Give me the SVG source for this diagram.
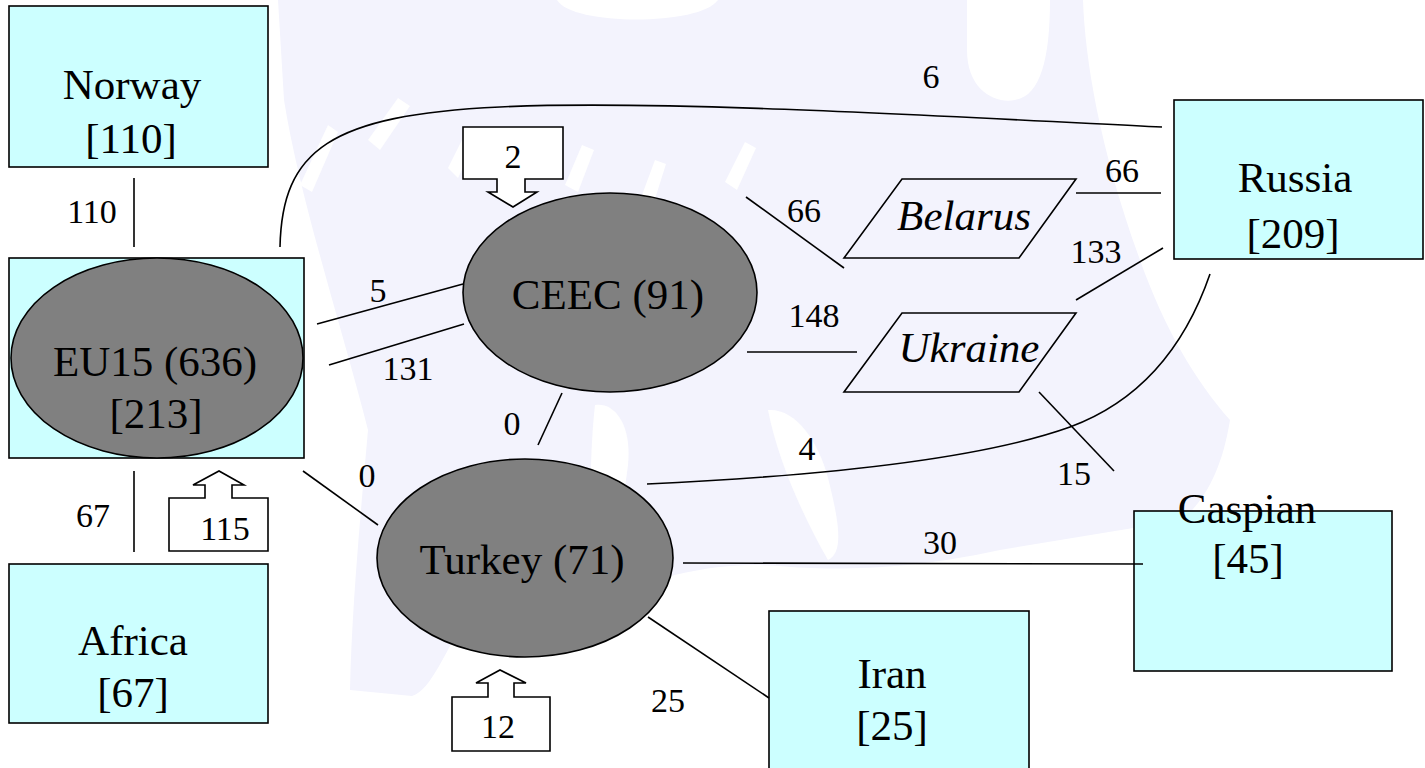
<svg xmlns="http://www.w3.org/2000/svg" width="1425" height="768" viewBox="0 0 1425 768" font-family="'Liberation Serif','Times New Roman',serif">
<defs>
<style>
.wm{fill:#f3f3fd;stroke:none}
.wh{fill:#ffffff;stroke:none}
.box{fill:#ccffff;stroke:#000;stroke-width:1.6}
.ell{fill:#808080;stroke:#000;stroke-width:1.6}
.par{fill:none;stroke:#000;stroke-width:1.6}
.arr{fill:#ffffff;stroke:#000;stroke-width:1.6}
.ln{fill:none;stroke:#000;stroke-width:1.6}
text{font-family:"Liberation Serif","Times New Roman",serif;fill:#000;text-anchor:middle}
.nl{font-size:43px}
.it{font-size:43px;font-style:italic}
.el{font-size:34px}
</style>
</defs>
<rect width="1425" height="768" fill="#ffffff"/>
<g id="watermark">
<path class="wm" d="M278,0 L1083,0 C1085,60 1100,150 1140,260 C1165,330 1195,380 1230,420 C1222,470 1205,500 1182,520 L1000,550 C900,572 820,570 780,566 C700,560 640,585 600,600 L470,612 C445,650 432,690 412,696 L350,690 C352,600 362,500 368,430 C340,320 300,200 284,100 Z"/>
<path class="wh" d="M557,0 C572,26 700,26 718,0 Z"/>
<path class="wh" d="M967,0 L967,50 C967,90 995,104 1015,100 C1040,96 1050,60 1050,0 Z"/>
<path class="wh" d="M300,185 L328,125 L338,132 L312,192 Z"/>
<path class="wh" d="M368,140 L398,98 L410,106 L380,150 Z"/>
<path class="wh" d="M448,168 L468,128 L478,136 L458,178 Z"/>
<path class="wh" d="M565,185 L582,145 L594,150 L578,192 Z"/>
<path class="wh" d="M642,195 L655,160 L666,164 L654,202 Z"/>
<path class="wh" d="M725,182 L745,142 L756,148 L737,190 Z"/>
<path class="wh" d="M595,405 C615,402 632,425 628,465 C622,515 612,552 598,560 C588,520 590,450 595,405 Z"/>
<path class="wh" d="M768,410 C795,408 818,440 828,478 C838,518 845,552 828,560 C805,520 778,462 768,410 Z"/>
</g>
<g id="norway"><rect class="box" x="9" y="6" width="259" height="161"/><text class="nl" x="132" y="99">Norway</text><text class="nl" x="131" y="153">[110]</text></g>
<g id="eu15"><rect class="box" x="9" y="258" width="295" height="200"/><ellipse class="ell" cx="157" cy="358" rx="146" ry="100"/><text class="nl" x="155" y="376">EU15 (636)</text><text class="nl" x="156" y="428">[213]</text></g>
<g id="africa"><rect class="box" x="9" y="564" width="259" height="159"/><text class="nl" x="133" y="655">Africa</text><text class="nl" x="133" y="707">[67]</text></g>
<g id="ceec"><ellipse class="ell" cx="610" cy="292.5" rx="147" ry="99.5"/><text class="nl" x="608" y="309">CEEC (91)</text></g>
<g id="turkey"><ellipse class="ell" cx="525" cy="558" rx="148" ry="99"/><text class="nl" x="522" y="574">Turkey (71)</text></g>
<g id="belarus"><polygon class="par" points="902,179 1076,179 1019,258 844,258"/><text class="it" x="964" y="230">Belarus</text></g>
<g id="ukraine"><polygon class="par" points="902,313 1076,313 1019,392 844,392"/><text class="it" x="969" y="362">Ukraine</text></g>
<g id="russia"><rect class="box" x="1174" y="100" width="249" height="159"/><text class="nl" x="1295" y="192">Russia</text><text class="nl" x="1293" y="248">[209]</text></g>
<g id="caspian"><rect class="box" x="1134" y="511" width="258" height="160"/><text class="nl" x="1247" y="523">Caspian</text><text class="nl" x="1248" y="573">[45]</text></g>
<g id="iran"><rect class="box" x="769" y="611" width="260" height="170"/><text class="nl" x="892" y="688">Iran</text><text class="nl" x="892" y="740">[25]</text></g>
<g id="inflow-ceec"><path class="arr" d="M463,127 H563 V179 H525 V192 H537 L513,207 L488,192 H497 V179 H463 Z"/><text class="el" x="513" y="168">2</text></g>
<g id="inflow-eu15"><path class="arr" d="M169,551 H268 V498 H232 V485 H244 L219,471 L193,485 H205 V498 H169 Z"/><text class="el" x="225" y="540">115</text></g>
<g id="inflow-turkey"><path class="arr" d="M452,751 H550 V697 H514 V683 H526 L500,670 L476,683 H488 V697 H452 Z"/><text class="el" x="498" y="738">12</text></g>
<g id="connectors">
<path class="ln" d="M134,178 V247"/>
<path class="ln" d="M134,471 V552"/>
<path class="ln" d="M317,324 L463,284"/>
<path class="ln" d="M329,365 L464,324"/>
<path class="ln" d="M303,471 L378,525"/>
<path class="ln" d="M562,393 L538,445"/>
<path class="ln" d="M280,247 C282,150 330,115 500,107 C650,100 900,114 1162,127"/>
<path class="ln" d="M746,197 L844,268"/>
<path class="ln" d="M1076,193 H1161"/>
<path class="ln" d="M747,352 H857"/>
<path class="ln" d="M1076,300 L1163,248"/>
<path class="ln" d="M1039,392 L1114,471"/>
<path class="ln" d="M1210,274 Q1170,390 1070,427 Q950,470 647,484"/>
<path class="ln" d="M683,563 L1143,564"/>
<path class="ln" d="M648,617 L769,698"/>
<text class="el" x="92" y="223">110</text>
<text class="el" x="93" y="527">67</text>
<text class="el" x="378" y="302">5</text>
<text class="el" x="408" y="380">131</text>
<text class="el" x="367" y="487">0</text>
<text class="el" x="512" y="435">0</text>
<text class="el" x="931" y="88">6</text>
<text class="el" x="804" y="222">66</text>
<text class="el" x="814" y="327">148</text>
<text class="el" x="1122" y="182">66</text>
<text class="el" x="1096" y="263">133</text>
<text class="el" x="807" y="460">4</text>
<text class="el" x="1074" y="485">15</text>
<text class="el" x="940" y="554">30</text>
<text class="el" x="668" y="712">25</text>
</g>
</svg>
